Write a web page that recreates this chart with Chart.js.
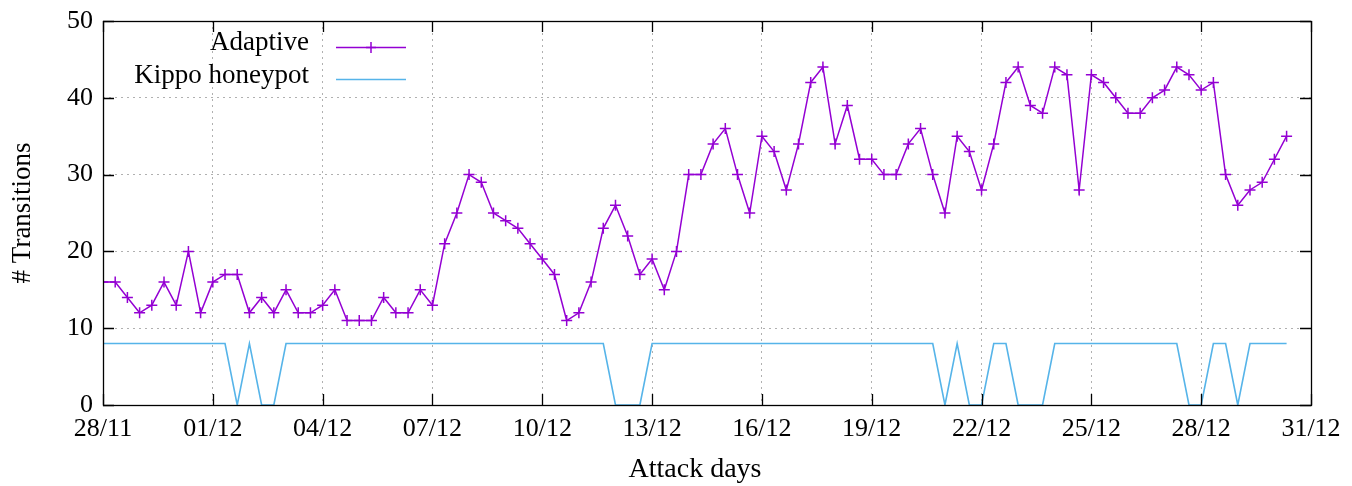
<!DOCTYPE html>
<html>
<head>
<meta charset="utf-8">
<script src="https://cdn.jsdelivr.net/npm/chart.js@4"></script>
<style>
html,body{margin:0;padding:0;background:#fff;}
#wrap{width:1352px;height:486px;}
</style>
</head>
<body>
<div id="wrap"><canvas id="c" width="1352" height="486"></canvas></div>
<script>
// Tick labels for the x axis (one every 3 days; 3 samples per day)
const xTickLabels = ['28/11','01/12','04/12','07/12','10/12','13/12','16/12','19/12','22/12','25/12','28/12','31/12'];
const samplesPerTick = 9;
const yTicks = [0, 10, 20, 30, 40, 50];
const xTitle = 'Attack days';
const yTitle = '# Transitions';

// Series values (one sample every 8 hours starting 28/11)
const adaptive = [16,16,14,12,13,16,13,20,12,16,17,17,12,14,12,15,12,12,13,15,
                  11,11,11,14,12,12,15,13,21,25,30,29,25,24,23,21,19,17,11,12,
                  16,23,26,22,17,19,15,20,30,30,34,36,30,25,35,33,28,34,42,44,
                  34,39,32,32,30,30,34,36,30,25,35,33,28,34,42,44,39,38,44,43,
                  28,43,42,40,38,38,40,41,44,43,41,42,30,26,28,29,32,35];
const kippo = [8,8,8,8,8,8,8,8,8,8,8,0,8,0,0,8,8,8,8,8,
               8,8,8,8,8,8,8,8,8,8,8,8,8,8,8,8,8,8,8,8,
               8,8,0,0,0,8,8,8,8,8,8,8,8,8,8,8,8,8,8,8,
               8,8,8,8,8,8,8,8,8,0,8,0,0,8,8,0,0,0,8,8,
               8,8,8,8,8,8,8,8,8,0,0,8,8,0,8,8,8,8];

const seriesNames = ['Adaptive', 'Kippo honeypot'];
const colors = ['#9400d3', '#56b4e9'];

const FONT = '"Liberation Serif", "Times New Roman", serif';

const frameTicks = {
  id: 'frameTicks',
  afterDatasetsDraw(chart) {
    const ctx = chart.ctx;
    const a = chart.chartArea;
    const xs = chart.scales.x, ys = chart.scales.y;
    const L = 11;
    ctx.save();
    ctx.strokeStyle = '#000';
    ctx.lineWidth = 1.3;
    ctx.beginPath();
    xs.ticks.forEach(t => {
      const px = Math.round(xs.getPixelForValue(t.value)) + 0.5;
      ctx.moveTo(px, a.bottom); ctx.lineTo(px, a.bottom - L);
      ctx.moveTo(px, a.top); ctx.lineTo(px, a.top + L);
    });
    ys.ticks.forEach(t => {
      const py = Math.round(ys.getPixelForValue(t.value)) + 0.5;
      ctx.moveTo(a.left, py); ctx.lineTo(a.left + L, py);
      ctx.moveTo(a.right, py); ctx.lineTo(a.right - L, py);
    });
    ctx.stroke();
    ctx.strokeRect(Math.round(a.left) + 0.5, Math.round(a.top) + 0.5, Math.round(a.right - a.left), Math.round(a.bottom - a.top));

    // axis titles
    ctx.fillStyle = '#000';
    ctx.font = '28px ' + FONT;
    ctx.textAlign = 'center';
    ctx.textBaseline = 'middle';
    ctx.fillText(xTitle, 695, 470);
    ctx.save();
    ctx.translate(23, (a.top + a.bottom) / 2);
    ctx.rotate(-Math.PI / 2);
    ctx.font = '27px ' + FONT;
    ctx.fillText(yTitle, 0, 0);
    ctx.restore();

    // legend
    ctx.font = '27px ' + FONT;
    ctx.textAlign = 'right';
    ctx.textBaseline = 'alphabetic';
    const rows = [{ty: 50, ly: 47}, {ty: 83, ly: 79}];
    chart.data.datasets.forEach((ds, i) => {
      const r = rows[i];
      ctx.fillStyle = '#000';
      ctx.fillText(ds.label, 309, r.ty);
      ctx.strokeStyle = ds.borderColor;
      ctx.lineWidth = 1.5;
      ctx.beginPath();
      ctx.moveTo(336, r.ly + 0.5); ctx.lineTo(406, r.ly + 0.5);
      ctx.stroke();
      if (ds.pointRadius > 0) {
        ctx.beginPath();
        ctx.moveTo(371, r.ly - 5); ctx.lineTo(371, r.ly + 6);
        ctx.moveTo(366, r.ly + 0.5); ctx.lineTo(376, r.ly + 0.5);
        ctx.stroke();
      }
    });
    ctx.restore();
  }
};

new Chart(document.getElementById('c'), {
  type: 'line',
  data: {
    datasets: [
      {
        label: seriesNames[0],
        data: adaptive.map((v, i) => ({x: i, y: v})),
        borderColor: colors[0],
        backgroundColor: colors[0],
        borderWidth: 1.5,
        pointStyle: 'cross',
        pointRadius: 5.5,
        pointBorderWidth: 1.5,
        pointHoverRadius: 5.5,
        tension: 0,
        fill: false
      },
      {
        label: seriesNames[1],
        data: kippo.map((v, i) => ({x: i, y: v})),
        borderColor: colors[1],
        backgroundColor: colors[1],
        borderWidth: 1.6,
        pointRadius: 0,
        tension: 0,
        fill: false
      }
    ]
  },
  options: {
    responsive: false,
    animation: false,
    events: [],
    layout: { padding: { left: 0, right: 41, top: 21, bottom: 0 } },
    plugins: { legend: { display: false }, tooltip: { enabled: false } },
    scales: {
      x: {
        type: 'linear',
        min: 0,
        max: (xTickLabels.length - 1) * samplesPerTick,
        afterBuildTicks: s => { s.ticks = xTickLabels.map((_, i) => ({value: i * samplesPerTick})); },
        afterFit: s => { s.height = 81; s.paddingLeft = 0; s.paddingRight = 0; },
        ticks: {
          autoSkip: false,
          maxRotation: 0,
          padding: 9,
          color: '#000',
          font: { family: FONT, size: 26 },
          callback: (v) => xTickLabels[Math.round(v / samplesPerTick)]
        },
        grid: { color: '#b0b0b0', lineWidth: 1, drawTicks: false },
        border: { display: false, dash: [2, 4] },
        title: { display: false }
      },
      y: {
        min: 0,
        max: 50,
        afterBuildTicks: s => { s.ticks = yTicks.map(v => ({value: v})); },
        afterFit: s => { s.width = 103; s.paddingTop = 0; s.paddingBottom = 0; },
        ticks: {
          padding: 10,
          color: '#000',
          font: { family: FONT, size: 26 }
        },
        grid: { color: '#b0b0b0', lineWidth: 1, drawTicks: false },
        border: { display: false, dash: [2, 4] },
        title: { display: false }
      }
    }
  },
  plugins: [frameTicks]
});
</script>
</body>
</html>
